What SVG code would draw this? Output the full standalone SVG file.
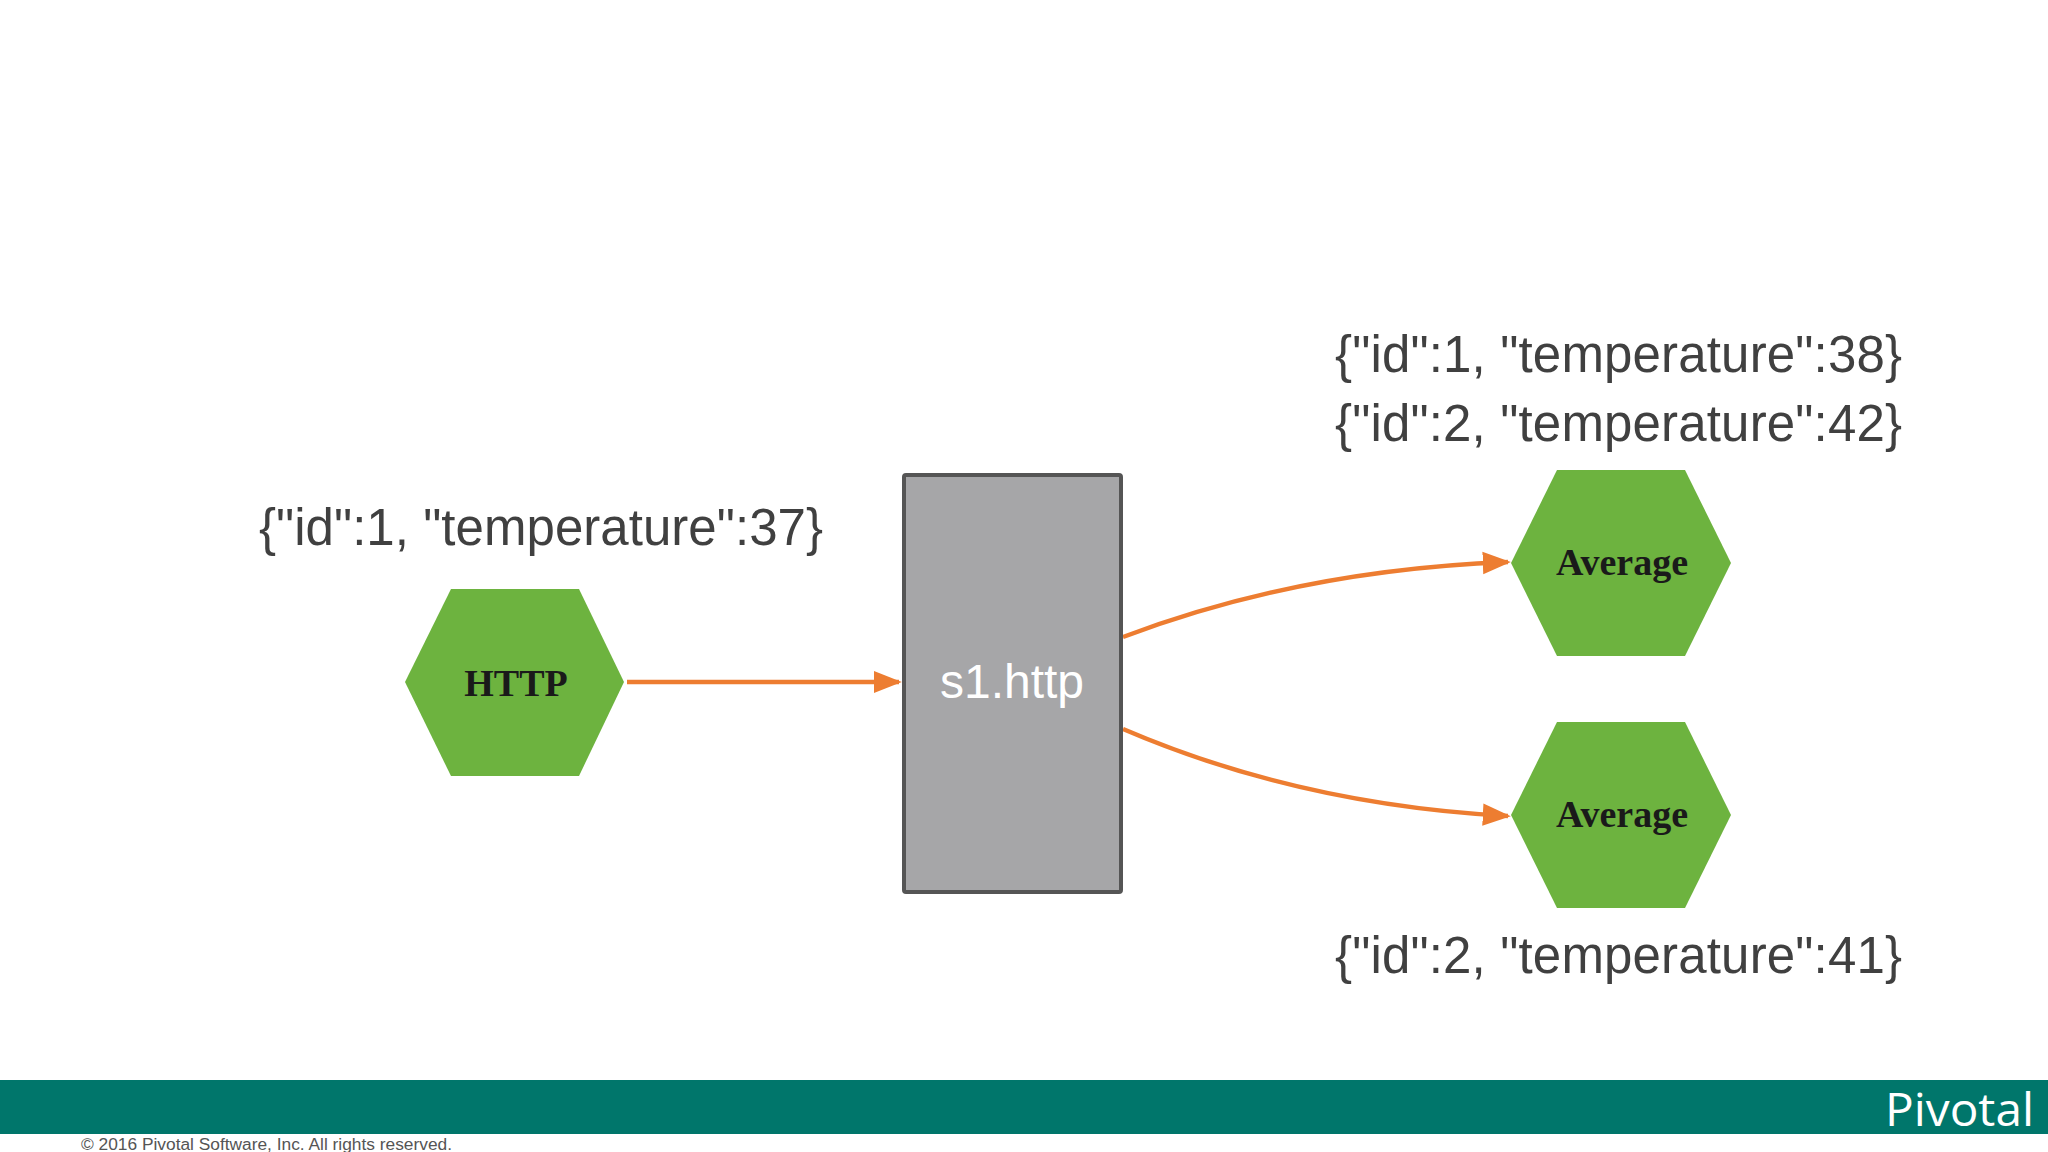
<svg xmlns="http://www.w3.org/2000/svg" width="2048" height="1152" viewBox="0 0 2048 1152">
<style>
.lbl{font-family:"Liberation Sans",Arial,sans-serif;font-size:51px;fill:#404040}
.hex{fill:#6db33f}
.ht{font-family:"Liberation Serif","Times New Roman",serif;font-weight:bold;font-size:38px;fill:#1a1a1a;text-anchor:middle}
.c{fill:none;stroke:#ed7d31;stroke-width:4.5}
</style>
<defs>
<marker id="a" viewBox="0 0 10 10" refX="9" refY="5" markerWidth="28" markerHeight="28" markerUnits="userSpaceOnUse" orient="auto"><path d="M0,1 L10,5 L0,9 Z" fill="#ed7d31"/></marker></defs>
<rect width="2048" height="1152" fill="#fff"/>
<g id="connectors">
<line class="c" x1="627" y1="682" x2="899" y2="682" marker-end="url(#a)"/>
<path class="c" d="M1123,637 Q1300,570 1508,562" marker-end="url(#a)"/>
<path class="c" d="M1123,729 Q1300,805 1508,816" marker-end="url(#a)"/>
</g>
<g id="http"><polygon class="hex" points="405,682 451,589 579,589 624,682 579,776 451,776"/><text class="ht" x="516" y="696">HTTP</text></g>
<g id="s1http"><rect x="904" y="475" width="217" height="417" fill="#a6a6a8" stroke="#555" stroke-width="4" rx="2"/><text x="1012" y="698" font-family="Liberation Sans,Arial,sans-serif" font-size="48" fill="#fff" text-anchor="middle">s1.http</text></g>
<g id="avg1"><polygon class="hex" points="1511,563 1557,470 1685,470 1731,563 1685,656 1557,656"/><text class="ht" x="1622" y="575">Average</text></g>
<g id="avg2"><polygon class="hex" points="1511,815 1557,722 1685,722 1731,815 1685,908 1557,908"/><text class="ht" x="1622" y="827">Average</text></g>
<g id="labels">
<text class="lbl" x="259" y="545" textLength="564">{"id":1, "temperature":37}</text>
<text class="lbl" x="1335" y="372" textLength="567">{"id":1, "temperature":38}</text>
<text class="lbl" x="1335" y="441" textLength="567">{"id":2, "temperature":42}</text>
<text class="lbl" x="1335" y="973" textLength="567">{"id":2, "temperature":41}</text>
</g>
<rect x="0" y="1080" width="2048" height="54" fill="#00766b"/>
<text x="1885" y="1126" font-family="Open Sans,Liberation Sans,sans-serif" font-size="46" fill="#fff" textLength="149" lengthAdjust="spacingAndGlyphs">Pivotal</text>
<text x="81" y="1150" font-family="Liberation Sans,Arial,sans-serif" font-size="16" fill="#555" textLength="371" lengthAdjust="spacingAndGlyphs">© 2016 Pivotal Software, Inc.  All rights reserved.</text>
</svg>
